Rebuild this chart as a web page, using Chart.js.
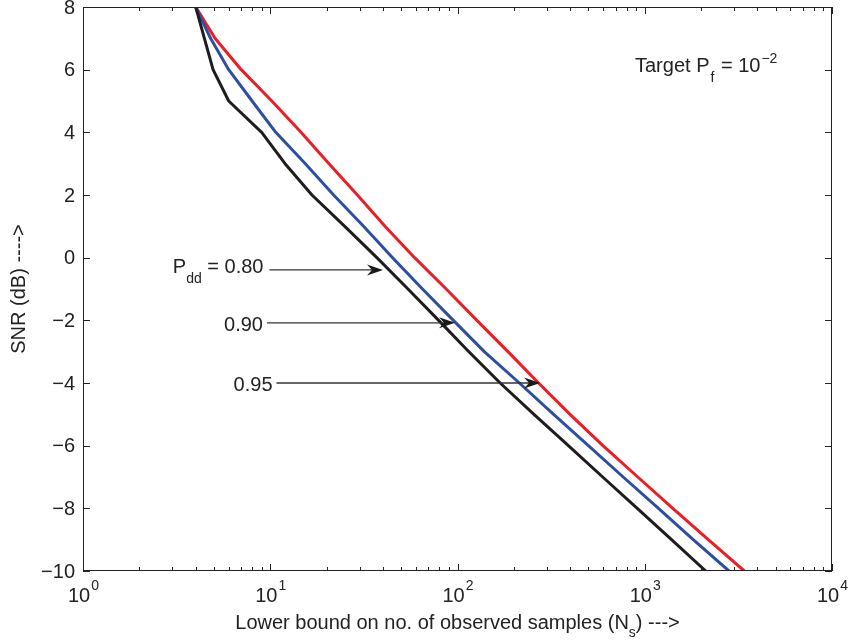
<!DOCTYPE html>
<html>
<head>
<meta charset="utf-8">
<script src="https://cdn.jsdelivr.net/npm/chart.js@4.4.1/dist/chart.umd.min.js"></script>
<style>
  html, body { margin: 0; padding: 0; background: #fff; }
</style>
</head>
<body>
<canvas id="grafico" width="850" height="641"></canvas>
<script>
// SNR (dB) em cada ponto das curvas
const snrDb = [8, 7, 6, 5, 4, 3, 2, 1, 0, -1, -2, -3, -4, -5, -6, -7, -8, -9, -10];
// numero minimo de amostras (Ns) para cada Pdd
const amostras080 = [4, 4.45, 4.95, 6.0, 9.0, 12.0, 16.7, 25.0, 37.1, 54.4, 79.3, 115, 169, 256, 391, 596, 912, 1390, 2117];
const amostras090 = [4, 4.8, 6.0, 8.0, 10.7, 15.4, 21.8, 31.5, 45, 65, 95, 139, 214, 326, 500, 767, 1184, 1815, 2818];
const amostras095 = [4, 5.07, 7.0, 10.2, 14.6, 20.6, 29.2, 41, 59, 87, 127, 186, 271, 399, 598, 918, 1412, 2185, 3402];

const xTicks = [1, 10, 100, 1000, 10000];
const xTickExp = ["0", "1", "2", "3", "4"];
const yTicks = [8, 6, 4, 2, 0, -2, -4, -6, -8, -10];

// setas de anotacao: rotulo, inicio (Ns), ponta (Ns), SNR
const setaRotulos = ["0.80", "0.90", "0.95"];
const setaInicio = [9.9, 9.6, 10.8];
const setaPonta = [40, 97, 276];
const setaSnr = [-0.39, -2.08, -4.0];

const FONTE = '"Liberation Sans", Arial, Helvetica, sans-serif';
const COR_TEXTO = "#222";

function pontos(valores) {
  return valores.map((n, i) => ({ x: n, y: snrDb[i] }));
}

function fonte(tam) {
  return tam + "px " + FONTE;
}

function seta(ctx, x0, y0, x1, y1) {
  const L = 16, W = 5.5, recuo = 11;
  ctx.strokeStyle = "#333";
  ctx.lineWidth = 1.3;
  ctx.beginPath();
  ctx.moveTo(x0, y0);
  ctx.lineTo(x1 - recuo, y1);
  ctx.stroke();
  ctx.fillStyle = "#1a1a1a";
  ctx.beginPath();
  ctx.moveTo(x1, y1);
  ctx.lineTo(x1 - L, y1 - W);
  ctx.lineTo(x1 - recuo, y1);
  ctx.lineTo(x1 - L, y1 + W);
  ctx.closePath();
  ctx.fill();
}

const desenho = {
  id: "desenho",
  afterDatasetsDraw(chart) {
    const { ctx, chartArea: a, scales: { x, y } } = chart;
    ctx.save();
    ctx.fillStyle = COR_TEXTO;

    // caixa dos eixos
    ctx.strokeStyle = "#222";
    ctx.lineWidth = 1;
    ctx.strokeRect(a.left + 0.5, a.top + 0.5, a.right - a.left - 1, a.bottom - a.top - 1);

    // ticks para dentro (estilo matlab)
    ctx.beginPath();
    xTicks.forEach((v, i) => {
      const px = Math.round(x.getPixelForValue(v)) + 0.5;
      ctx.moveTo(px, a.bottom); ctx.lineTo(px, a.bottom - 7);
      ctx.moveTo(px, a.top); ctx.lineTo(px, a.top + 7);
      if (i < xTicks.length - 1) {
        for (let m = 2; m <= 9; m++) {
          const pm = Math.round(x.getPixelForValue(v * m)) + 0.5;
          ctx.moveTo(pm, a.bottom); ctx.lineTo(pm, a.bottom - 4);
          ctx.moveTo(pm, a.top); ctx.lineTo(pm, a.top + 4);
        }
      }
    });
    yTicks.forEach(v => {
      const py = Math.round(y.getPixelForValue(v)) + 0.5;
      ctx.moveTo(a.left, py); ctx.lineTo(a.left + 7, py);
      ctx.moveTo(a.right, py); ctx.lineTo(a.right - 7, py);
    });
    ctx.stroke();

    // rotulos do eixo y
    ctx.font = fonte(20);
    ctx.textAlign = "right";
    ctx.textBaseline = "middle";
    yTicks.forEach(v => {
      const txt = v < 0 ? "\u2212" + Math.abs(v) : String(v);
      ctx.fillText(txt, a.left - 8, y.getPixelForValue(v) + 1);
    });

    // rotulos do eixo x: 10 com expoente
    ctx.textAlign = "left";
    ctx.textBaseline = "alphabetic";
    xTicks.forEach((v, i) => {
      ctx.font = fonte(20);
      const wb = ctx.measureText("10").width;
      ctx.font = fonte(14);
      const we = ctx.measureText(xTickExp[i]).width;
      const x0 = x.getPixelForValue(v) - (wb + we) / 2;
      ctx.font = fonte(20);
      ctx.fillText("10", x0, 602);
      ctx.font = fonte(14);
      ctx.fillText(xTickExp[i], x0 + wb + 1, 590);
    });

    // titulo do eixo x
    const t1 = "Lower bound on no. of observed samples (N", t2 = "s", t3 = ") --->";
    ctx.font = fonte(20);
    const w1 = ctx.measureText(t1).width, w3 = ctx.measureText(t3).width;
    ctx.font = fonte(14);
    const w2 = ctx.measureText(t2).width;
    let xt = (a.left + a.right) / 2 - (w1 + w2 + w3) / 2;
    ctx.font = fonte(20);
    ctx.fillText(t1, xt, 629);
    ctx.font = fonte(14);
    ctx.fillText(t2, xt + w1, 637);
    ctx.font = fonte(20);
    ctx.fillText(t3, xt + w1 + w2, 629);

    // titulo do eixo y
    ctx.save();
    ctx.translate(25, (a.top + a.bottom) / 2);
    ctx.rotate(-Math.PI / 2);
    ctx.textAlign = "center";
    ctx.font = fonte(20);
    ctx.fillText("SNR (dB) ---->", 0, 0);
    ctx.restore();

    // Target Pf = 10^-2
    let xp = x.getPixelForValue(887), yp = y.getPixelForValue(5.94);
    ctx.textAlign = "left";
    ctx.font = fonte(20);
    ctx.fillText("Target P", xp, yp);
    xp += ctx.measureText("Target P").width;
    ctx.font = fonte(14);
    ctx.fillText("f", xp + 1, yp + 10);
    xp += ctx.measureText("f").width + 2;
    ctx.font = fonte(20);
    ctx.fillText(" = 10", xp, yp);
    xp += ctx.measureText(" = 10").width;
    ctx.font = fonte(14);
    ctx.fillText("\u22122", xp + 1, yp - 9);

    // setas e rotulos de Pdd
    setaRotulos.forEach((r, i) => {
      const yA = y.getPixelForValue(setaSnr[i]);
      const x0 = x.getPixelForValue(setaInicio[i]);
      const x1 = x.getPixelForValue(setaPonta[i]);
      seta(ctx, x0, yA, x1, yA);
      ctx.fillStyle = COR_TEXTO;
      ctx.textAlign = "right";
      ctx.font = fonte(20);
      if (i === 0) {
        const base = yA + 3;
        const principal = " = " + r;
        ctx.fillText(principal, x0 - 6, base);
        let xr = x0 - 6 - ctx.measureText(principal).width;
        ctx.font = fonte(14);
        ctx.fillText("dd", xr, base + 10);
        xr -= ctx.measureText("dd").width;
        ctx.font = fonte(20);
        ctx.fillText("P", xr, base);
      } else {
        ctx.fillText(r, x0 - 4, yA + 8);
      }
    });

    ctx.restore();
  }
};

new Chart(document.getElementById("grafico"), {
  type: "line",
  data: {
    datasets: [
      { label: "Pdd = 0.80", data: pontos(amostras080), borderColor: "#1f1c1d", borderWidth: 3 },
      { label: "Pdd = 0.90", data: pontos(amostras090), borderColor: "#2d4fa3", borderWidth: 3 },
      { label: "Pdd = 0.95", data: pontos(amostras095), borderColor: "#ec1d25", borderWidth: 3 }
    ]
  },
  options: {
    responsive: false,
    devicePixelRatio: 1,
    animation: false,
    parsing: false,
    elements: {
      point: { radius: 0 },
      line: { tension: 0, borderJoinStyle: "round", borderCapStyle: "butt" }
    },
    layout: { padding: { left: 0, top: 7, right: 18, bottom: 0 } },
    plugins: {
      legend: { display: false },
      tooltip: { enabled: false }
    },
    scales: {
      x: {
        type: "logarithmic",
        min: 1,
        max: 10000,
        grid: { display: false, drawTicks: false },
        border: { display: false },
        ticks: { display: false },
        afterFit: s => { s.height = 70; }
      },
      y: {
        type: "linear",
        min: -10,
        max: 8,
        grid: { display: false, drawTicks: false },
        border: { display: false },
        ticks: { display: false, stepSize: 2 },
        afterFit: s => { s.width = 83; }
      }
    }
  },
  plugins: [desenho]
});
</script>
</body>
</html>
